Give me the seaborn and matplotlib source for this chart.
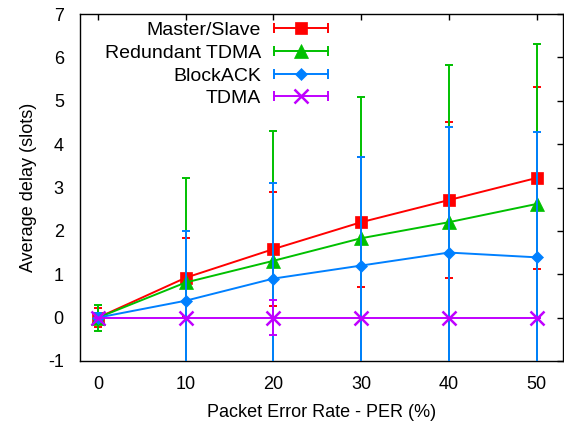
import numpy as np
import pandas as pd
import matplotlib
matplotlib.use("Agg")
import matplotlib.pyplot as plt
import seaborn as sns
from matplotlib.lines import Line2D
from matplotlib.legend_handler import HandlerLine2D

per = [0, 10, 20, 30, 40, 50]
series_names = ["Master/Slave", "Redundant TDMA", "BlockACK", "TDMA"]
ms_mean = [0.0, 0.92, 1.58, 2.2, 2.71, 3.22]
ms_err = [0.22, 0.91, 1.32, 1.5, 1.8, 2.1]
rt_mean = [0.0, 0.81, 1.31, 1.83, 2.2, 2.62]
rt_err = [0.3, 2.4, 3.0, 3.26, 3.62, 3.7]
ba_mean = [0.0, 0.39, 0.9, 1.2, 1.5, 1.39]
ba_err = [0.1, 1.6, 2.2, 2.5, 2.9, 2.9]
td_mean = [0.0, 0.0, 0.0, 0.0, 0.0, 0.0]
td_err = [0.0, 0.0, 0.4, 0.0, 0.0, 0.0]

means = [ms_mean, rt_mean, ba_mean, td_mean]
errs = [ms_err, rt_err, ba_err, td_err]
colors = ["#ff0000", "#00c000", "#0080ff", "#c000ff"]
markers = ["s", "^", "D", "x"]
msizes = [9, 10, 6.5, 10]

sns.set_theme(style="white")
plt.rcParams["font.family"] = ["Liberation Sans", "DejaVu Sans"]
plt.rcParams["axes.unicode_minus"] = False
plt.rcParams["text.color"] = "black"
plt.rcParams["axes.labelcolor"] = "black"

rows = []
for name, m in zip(series_names, means):
    for x, y in zip(per, m):
        rows.append({"PER": x, "delay": y, "series": name})
df = pd.DataFrame(rows)

fig = plt.figure(figsize=(5.64, 4.30), dpi=100)
ax = fig.add_axes([0.1427, 0.1605, 0.998 - 0.1427, 0.9674 - 0.1605])

for i, name in enumerate(series_names):
    sub = df[df["series"] == name]
    ax.errorbar(per, means[i], yerr=errs[i], fmt="none", ecolor=colors[i],
                elinewidth=1.4, capsize=3, capthick=1.4, zorder=2 + i)
    sns.lineplot(data=sub, x="PER", y="delay", ax=ax, color=colors[i],
                 marker=markers[i], markersize=msizes[i], markeredgecolor=colors[i],
                 markeredgewidth=1.8 if markers[i] == "x" else 0.5,
                 linewidth=1.4, legend=False, zorder=2 + i)

ax.set_xlim(-2, 53)
ax.set_ylim(-1, 7)
ax.set_xticks(per)
ax.set_yticks(range(-1, 8))
ax.tick_params(direction="in", length=4, width=1, top=True, right=True,
               labelsize=13, colors="black")
ax.tick_params(axis="x", pad=11)
ax.tick_params(axis="y", pad=12)
for sp in ax.spines.values():
    sp.set_color("black")
    sp.set_linewidth(1.0)
ax.set_xlabel("Packet Error Rate - PER (%)", fontsize=13, labelpad=8, color="black")
ax.set_ylabel("Average delay (slots)", fontsize=13, labelpad=8, color="black")


class CapHandler(HandlerLine2D):
    def create_artists(self, legend, orig_handle, xdescent, ydescent,
                       width, height, fontsize, trans):
        arts = super().create_artists(legend, orig_handle, xdescent, ydescent,
                                      width, height, fontsize, trans)
        y = height / 2 - ydescent
        cap = Line2D([-xdescent, -xdescent + width], [y, y], linestyle="none",
                     marker="|", markersize=7, markeredgewidth=1.4,
                     color=orig_handle.get_color())
        cap.set_transform(trans)
        return arts + [cap]


handles = [Line2D([], [], color=c, marker=mk, markersize=s,
                  markeredgewidth=1.8 if mk == "x" else 0.5, markeredgecolor=c,
                  linewidth=1.4)
           for c, mk, s in zip(colors, markers, msizes)]
leg = ax.legend(handles, series_names, loc="upper right",
                bbox_to_anchor=(0.513, 0.978), markerfirst=False, frameon=False,
                fontsize=14, handlelength=2.8, handletextpad=0.65,
                labelspacing=0.26, borderaxespad=0.0, borderpad=0.0,
                handler_map={Line2D: CapHandler(numpoints=1)})
for t in leg.get_texts():
    t.set_ha("right")
    t.set_color("black")
leg._legend_box.align = "right"

fig.savefig("out.png", dpi=100)
